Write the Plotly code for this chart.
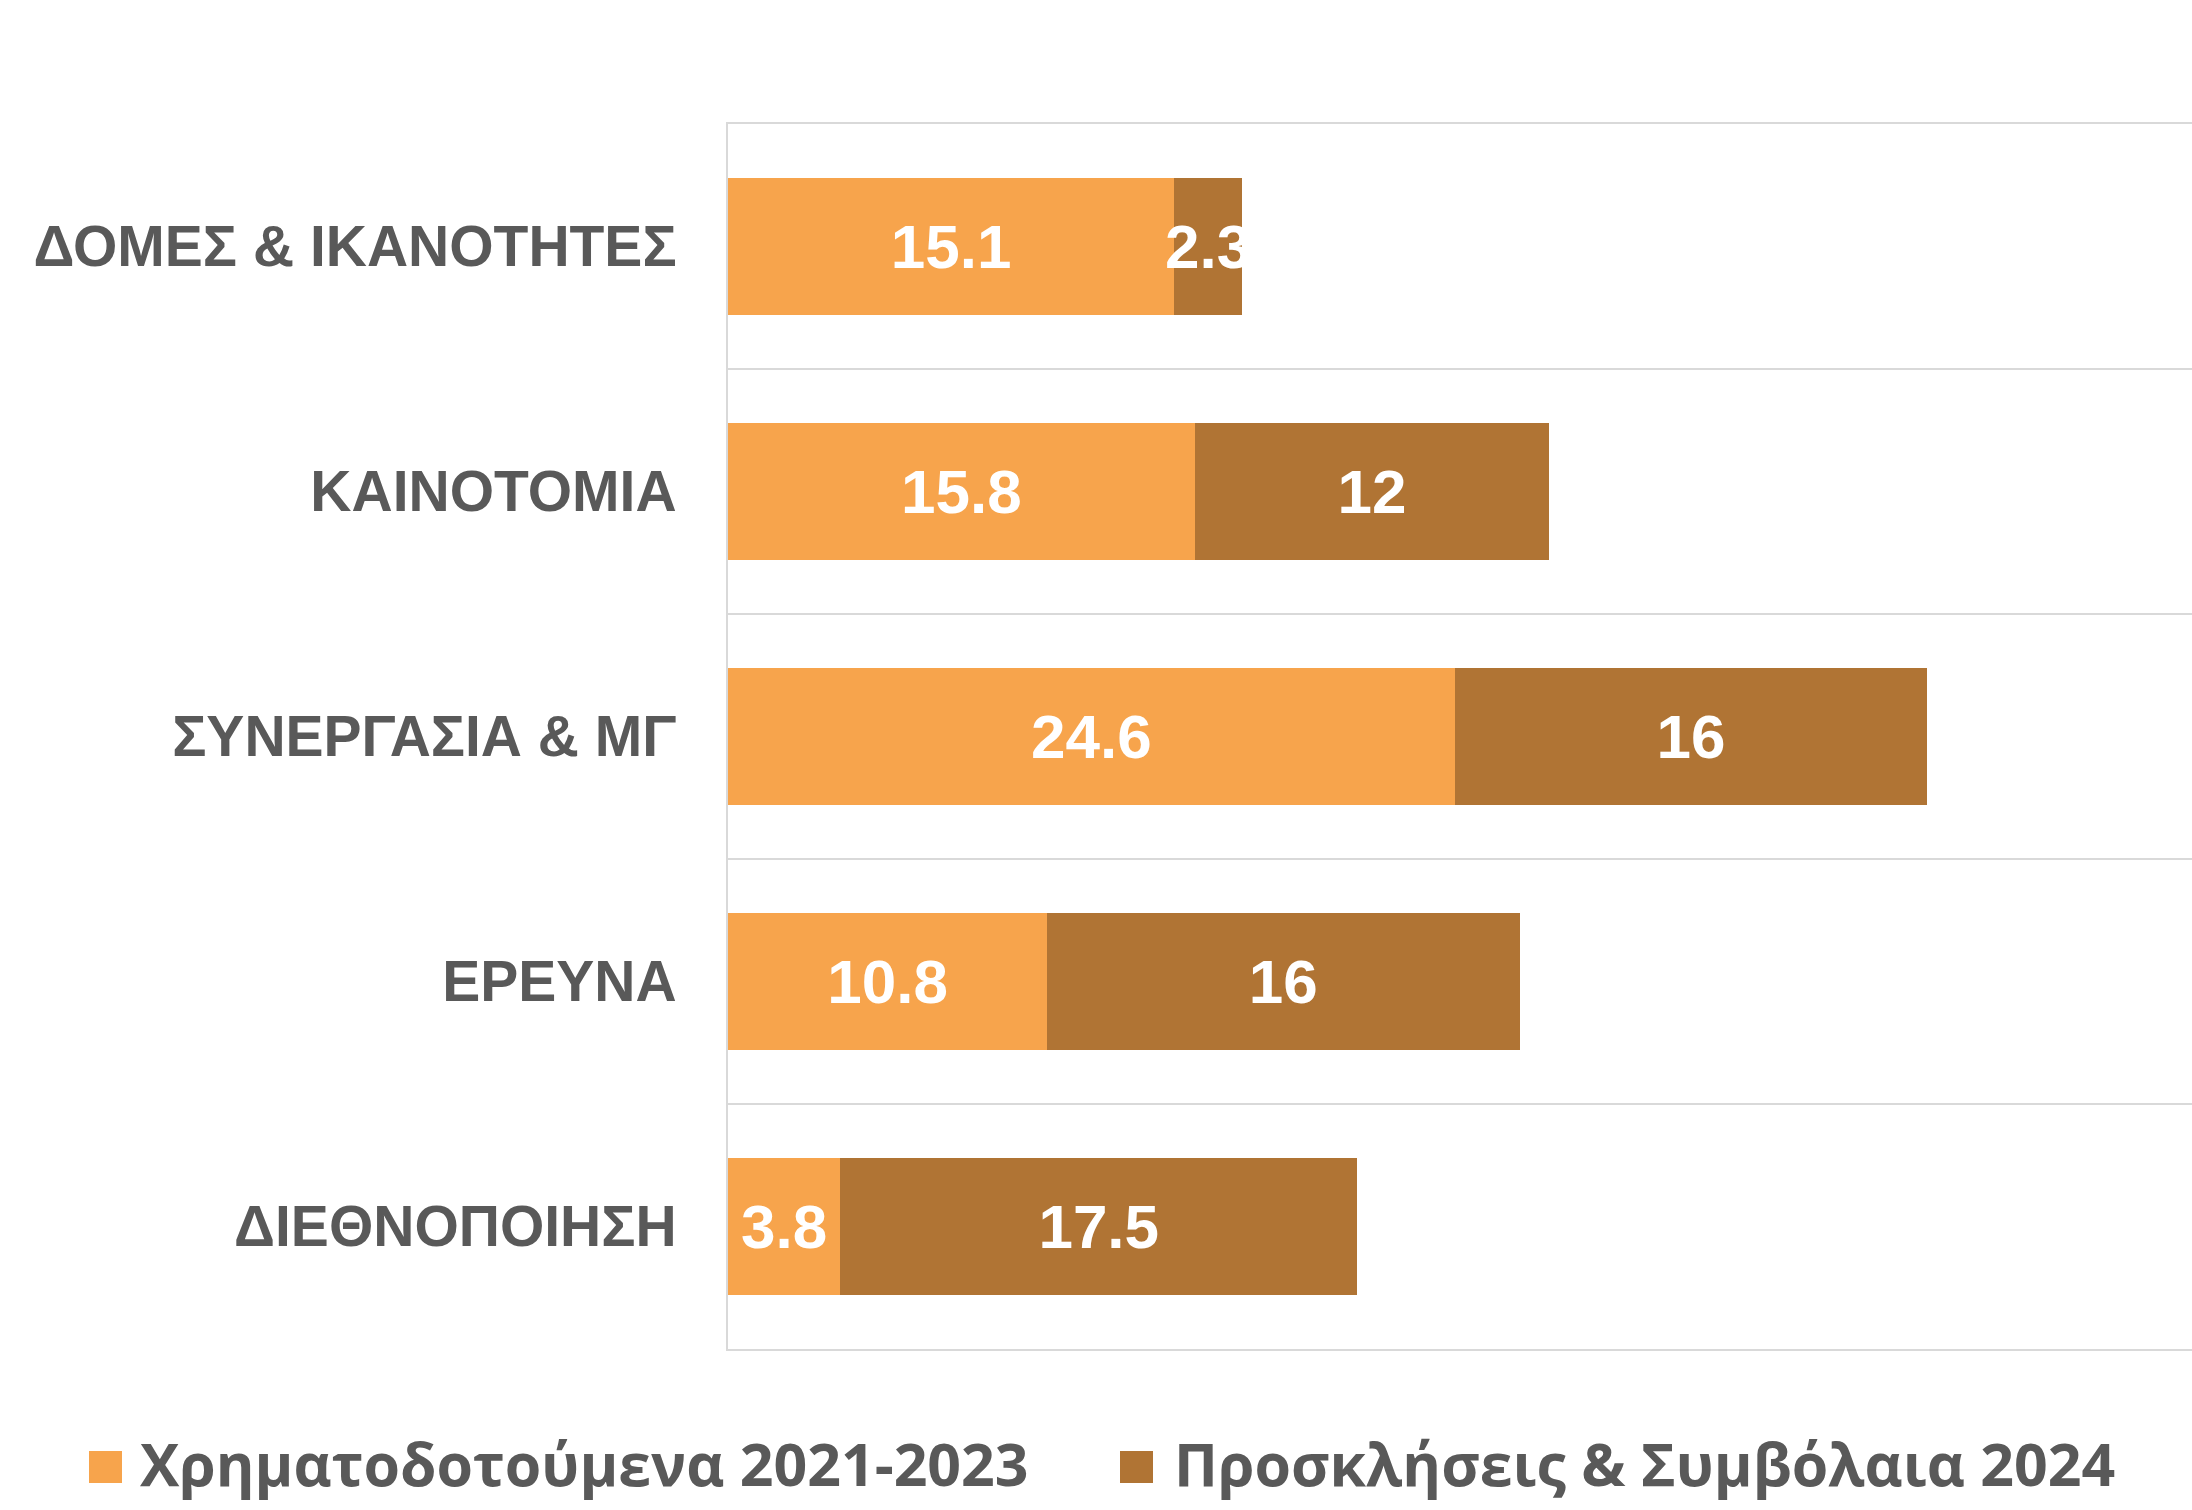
import plotly.graph_objects as go

categories = ["ΔΟΜΕΣ & ΙΚΑΝΟΤΗΤΕΣ", "ΚΑΙΝΟΤΟΜΙΑ", "ΣΥΝΕΡΓΑΣΙΑ & ΜΓ", "ΕΡΕΥΝΑ", "ΔΙΕΘΝΟΠΟΙΗΣΗ"]
funded_2021_2023 = [15.1, 15.8, 24.6, 10.8, 3.8]
calls_2024 = [2.3, 12, 16, 16, 17.5]
series_names = ["Χρηματοδοτούμενα 2021-2023", "Προσκλήσεις & Συμβόλαια 2024"]

ORANGE = "#F7A44C"
BROWN = "#B07434"
GREY_TEXT = "#595959"
GRID = "#D9D9D9"
FONT = "Liberation Sans, Arial, sans-serif"
LEGEND_FONT = "Open Sans, Noto Sans, sans-serif"

W, H = 2192, 1510
ML, MR, MT, MB = 728, 0, 124, 161

fig = go.Figure()
colors = [ORANGE, BROWN]
for name, vals, color in zip(series_names, [funded_2021_2023, calls_2024], colors):
    fig.add_trace(go.Bar(
        y=categories, x=vals, name=name, orientation="h",
        marker=dict(color=color, line=dict(width=0)),
        text=[f"{v:g}" for v in vals],
        textposition="inside", insidetextanchor="middle",
        constraintext="none", textangle=0,
        textfont=dict(family=FONT, size=62, color="white", weight="bold"),
        showlegend=False,
    ))

# Custom legend (large square swatches + text) placed below the plot
pw = W - ML - MR
ph = H - MT - MB
def px_x(X):
    return (X - ML) / pw
def px_y(Y):
    return (H - MB - Y) / ph

legend_items = [
    dict(sq=(89, 122), tx=138),
    dict(sq=(1120, 1153), tx=1172),
]
shapes = []
annotations = []
for item, name, color in zip(legend_items, series_names, colors):
    shapes.append(dict(type="rect", xref="paper", yref="paper",
                       x0=px_x(item["sq"][0]), x1=px_x(item["sq"][1]),
                       y0=px_y(1451), y1=px_y(1483),
                       fillcolor=color, line=dict(width=0)))
    annotations.append(dict(text=name, xref="paper", yref="paper",
                            x=px_x(item["tx"]), y=px_y(1463),
                            xanchor="left", yanchor="middle", showarrow=False,
                            font=dict(family=LEGEND_FONT, size=59,
                                      color=GREY_TEXT, weight="bold")))

fig.update_layout(
    width=W, height=H,
    barmode="stack", bargap=0.44,
    plot_bgcolor="white", paper_bgcolor="white",
    margin=dict(l=ML, r=MR, t=MT, b=MB, autoexpand=False),
    font=dict(family=FONT, color=GREY_TEXT),
    showlegend=False,
    shapes=shapes,
    annotations=annotations,
    xaxis=dict(range=[0, 49.56], showgrid=False, showticklabels=False,
               zeroline=False, showline=True, mirror=True,
               linecolor=GRID, linewidth=2, fixedrange=True),
    yaxis=dict(autorange="reversed", type="category", tickson="boundaries",
               showgrid=True, gridcolor=GRID, gridwidth=2,
               showline=True, linecolor=GRID, linewidth=2,
               ticks="", ticklabelstandoff=38, automargin=False,
               tickfont=dict(family=FONT, size=57, color=GREY_TEXT, weight="bold")),
)

fig.write_html("out.html", config={"displayModeBar": False},
               post_script="document.body.style.margin='0px';document.body.style.overflow='hidden';")
